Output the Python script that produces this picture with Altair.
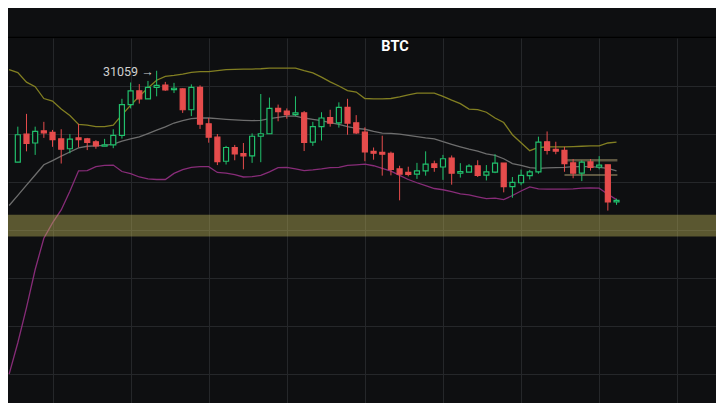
import altair as alt
import pandas as pd

# ---------------- data ----------------
candle_idx = list(range(70))
opens = [30107, 30400, 30307, 30433, 30417, 30350, 30247, 30360, 30350, 30320,
         30273, 30287, 30387, 30707, 30850, 30767, 30887, 30910, 30863, 30870,
         30653, 30887, 30507, 30367, 30117, 30260, 30197, 30173, 30377, 30403,
         30667, 30640, 30603, 30620, 30317, 30477, 30570, 30517, 30677, 30517,
         30420, 30220, 30210, 30200, 30037, 30000, 29983, 30017, 30090, 30057,
         30150, 29993, 30003, 30070, 29973, 30003, 30097, 29853, 29893, 29967,
         30007, 30320, 30240, 30230, 30100, 29993, 30110, 30057, 30080, 29693]
highs = [30477, 30610, 30477, 30527, 30443, 30450, 30400, 30507, 30360, 30337,
         30350, 30450, 30767, 30937, 30920, 30953, 31059, 30943, 30933, 30877,
         30917, 30907, 30567, 30400, 30277, 30287, 30307, 30407, 30817, 30780,
         30707, 30667, 30793, 30640, 30527, 30627, 30653, 30730, 30767, 30597,
         30470, 30260, 30383, 30217, 30070, 30060, 30100, 30220, 30123, 30183,
         30177, 30097, 30087, 30127, 30077, 30190, 30097, 29953, 30030, 30027,
         30373, 30427, 30320, 30267, 30140, 30127, 30140, 30170, 30080, 29727]
lows = [30107, 30220, 30183, 30360, 30267, 30093, 30200, 30260, 30233, 30247,
        30273, 30253, 30353, 30667, 30717, 30767, 30793, 30850, 30827, 30620,
        30587, 30453, 30310, 30077, 30083, 30127, 30033, 30100, 30107, 30403,
        30533, 30560, 30587, 30223, 30277, 30333, 30477, 30467, 30393, 30400,
        30117, 30133, 29967, 29970, 29710, 29960, 29933, 29967, 30007, 29923,
        29873, 29947, 30003, 29953, 29917, 29993, 29793, 29737, 29867, 29927,
        29987, 30187, 30190, 30007, 29940, 29910, 30020, 30033, 29603, 29663]
closes = [30393, 30303, 30427, 30413, 30343, 30243, 30347, 30343, 30313, 30277,
          30287, 30387, 30707, 30850, 30767, 30887, 30907, 30860, 30877, 30653,
          30887, 30503, 30367, 30113, 30260, 30193, 30173, 30377, 30403, 30667,
          30633, 30603, 30620, 30313, 30477, 30567, 30513, 30677, 30513, 30413,
          30213, 30200, 30190, 30033, 29983, 29980, 30017, 30087, 30053, 30143,
          29993, 30010, 30067, 29970, 30007, 30097, 29853, 29897, 29970, 30007,
          30317, 30230, 30223, 30093, 29993, 30107, 30053, 30077, 29693, 29710]

band_idx = list(range(-1, 70))
upper_band = [31070, 31040, 30940, 30893, 30770, 30743, 30660, 30593, 30500, 30493,
              30477, 30477, 30493, 30600, 30700, 30793, 30880, 30960, 31000, 31010,
              31025, 31043, 31050, 31050, 31060, 31070, 31073, 31077, 31077, 31080,
              31087, 31087, 31087, 31087, 31060, 31037, 30993, 30943, 30900, 30853,
              30837, 30770, 30767, 30767, 30770, 30787, 30807, 30827, 30827, 30827,
              30793, 30753, 30717, 30660, 30655, 30627, 30567, 30520, 30393, 30310,
              30227, 30260, 30267, 30267, 30267, 30270, 30273, 30277, 30277, 30307,
              30317]
middle_band = [29656, 29762, 29868, 29974, 30080, 30124, 30170, 30213, 30255, 30273,
               30277, 30283, 30295, 30327, 30350, 30370, 30405, 30440, 30475, 30515,
               30540, 30560, 30567, 30567, 30560, 30553, 30547, 30543, 30540, 30543,
               30560, 30573, 30587, 30587, 30567, 30553, 30540, 30520, 30500, 30477,
               30460, 30450, 30427, 30410, 30407, 30400, 30387, 30373, 30360, 30350,
               30320, 30293, 30267, 30243, 30222, 30193, 30177, 30143, 30093, 30073,
               30050, 30043, 30047, 30050, 30053, 30060, 30060, 30060, 30053, 30043,
               30017]
lower_band = [27900, 28227, 28592, 28990, 29315, 29475, 29610, 29805, 30017, 30020,
              30060, 30073, 30077, 30010, 29987, 29953, 29933, 29927, 29927, 29990,
              30030, 30053, 30060, 30060, 30000, 29993, 29977, 29953, 29957, 29970,
              30007, 30050, 30053, 30037, 30020, 30027, 30037, 30050, 30053, 30073,
              30080, 30087, 30070, 30043, 30013, 29970, 29927, 29893, 29863, 29833,
              29820, 29800, 29777, 29767, 29746, 29727, 29733, 29717, 29760, 29807,
              29850, 29830, 29827, 29827, 29827, 29830, 29837, 29840, 29837, 29773,
              29717]

# short horizontal levels at the right
level_start = [63, 63]
level_end = [69.1, 69.1]
level_top = [30140, 29983]
level_bottom = [30113, 29963]

# wide highlighted zone
zone_top = [29560]
zone_bottom = [29333]

ann_idx = [16]
ann_price = [31059]
ann_text = ["31059 →"]

title_text = ["BTC"]

y_grid = [30900, 30400, 29900, 29400, 28900, 28400, 27900]
x_grid = [4, 13, 22, 31, 40, 49, 58, 67, 76]

# ---------------- tables ----------------
candles = pd.DataFrame({"i": candle_idx, "open": opens, "high": highs,
                        "low": lows, "close": closes})
candles["dir"] = ["up" if c >= o else "down" for o, c in zip(opens, closes)]
bands = pd.DataFrame({"i": band_idx, "upper": upper_band,
                      "middle": middle_band, "lower": lower_band})
levels = pd.DataFrame({"s": level_start, "e": level_end,
                       "t": level_top, "b": level_bottom})
zone = pd.DataFrame({"t": zone_top, "b": zone_bottom})
ann = pd.DataFrame({"i": ann_idx, "p": ann_price, "label": ann_text})

BG = "#0e0f11"
GREEN = "#21c06c"
RED = "#e64c4c"
GRID = "#25272a"
W = 708
H = 365
TOP = 30

xscale = alt.Scale(domain=[-0.5556, 79.8889], nice=False, zero=False)
yscale = alt.Scale(domain=[27600, 31400], nice=False, zero=False)
xaxis = alt.Axis(values=x_grid, labels=False, ticks=False, domain=False,
                 title=None, grid=True, gridColor=GRID, gridWidth=1)
yaxis = alt.Axis(values=y_grid, labels=False, ticks=False, domain=False,
                 title=None, grid=True, gridColor=GRID, gridWidth=1)

X = alt.X("i:Q", scale=xscale, axis=xaxis)
color_scale = alt.Scale(domain=["up", "down"], range=[GREEN, RED])

grid_layer = alt.Chart(bands).mark_line(opacity=0).encode(
    x=X, y=alt.Y("middle:Q", scale=yscale, axis=yaxis))


def band_line(field, color):
    return alt.Chart(bands).mark_line(color=color, strokeWidth=1.3, clip=True).encode(
        x=alt.X("i:Q", scale=xscale),
        y=alt.Y(f"{field}:Q", scale=yscale))


upper_l = band_line("upper", "#827f22")
middle_l = band_line("middle", "#6e6e6e")
lower_l = band_line("lower", "#872c78")

level_rects = alt.Chart(levels).mark_rect(color="#c0b07c", opacity=0.45).encode(
    x=alt.X("s:Q", scale=xscale), x2="e:Q",
    y=alt.Y("t:Q", scale=yscale), y2="b:Q")

wicks = alt.Chart(candles).mark_rule(strokeWidth=1).encode(
    x=alt.X("i:Q", scale=xscale),
    y=alt.Y("low:Q", scale=yscale), y2="high:Q",
    color=alt.Color("dir:N", scale=color_scale, legend=None))

bodies = alt.Chart(candles).mark_bar(size=5, strokeWidth=1.2).encode(
    x=alt.X("i:Q", scale=xscale),
    y=alt.Y("open:Q", scale=yscale), y2="close:Q",
    stroke=alt.Stroke("dir:N", scale=color_scale, legend=None),
    fill=alt.Fill("dir:N", scale=alt.Scale(domain=["up", "down"], range=[BG, RED]),
                  legend=None))

zone_rect = alt.Chart(zone).mark_rect(color="#b7af56", opacity=0.45).encode(
    x=alt.value(0), x2=alt.value(W),
    y=alt.Y("t:Q", scale=yscale), y2="b:Q")

ann_text_l = alt.Chart(ann).mark_text(align="right", baseline="middle", dx=-3, dy=1,
                                     font="Roboto", fontSize=12.5,
                                     color="#cfcfcf").encode(
    x=alt.X("i:Q", scale=xscale), y=alt.Y("p:Q", scale=yscale), text="label:N")

title_l = alt.Chart(pd.DataFrame({"t": title_text})).mark_text(
    font="Roboto", fontWeight="bold", fontSize=14.5, color="#ffffff",
    align="center", baseline="middle").encode(
    x=alt.value(387), y=alt.value(9), text="t:N")

top_line = alt.Chart(pd.DataFrame({"a": [0]})).mark_rule(
    color="#000000", strokeWidth=1.2).encode(
    x=alt.value(0), x2=alt.value(W), y=alt.value(-0.6))

chart = alt.layer(
    grid_layer, upper_l, middle_l, lower_l, level_rects, wicks, bodies,
    zone_rect, ann_text_l, title_l, top_line
).properties(
    width=W, height=H,
    padding={"top": TOP, "left": 0, "right": 0, "bottom": 0},
    autosize="none",
    background=BG,
).configure_view(strokeWidth=0)

chart.save("out.html", embed_options={"renderer": "svg", "actions": False})
